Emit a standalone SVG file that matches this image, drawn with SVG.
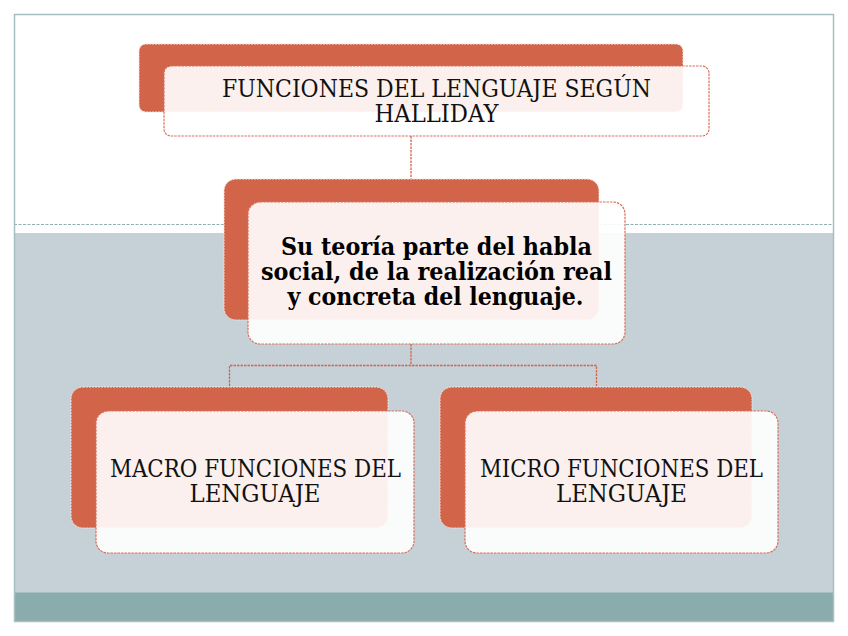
<svg xmlns="http://www.w3.org/2000/svg" width="848" height="636" viewBox="0 0 848 636">
<style>
.back{fill:#D2644A;stroke:#F3E3DE;stroke-width:1;stroke-dasharray:2 1}
.front{fill:#FFFFFF;fill-opacity:0.9;stroke:#D9705A;stroke-width:1.2;stroke-dasharray:2.5 1}
.conn{fill:none;stroke:#D2644A;stroke-width:1.3;stroke-dasharray:2.5 1}
.t{font-family:"DejaVu Serif","Liberation Serif",serif;font-size:23.5px;fill:#111;text-anchor:middle}
.tb{font-family:"DejaVu Serif","Liberation Serif",serif;font-size:23.5px;font-weight:bold;fill:#000;text-anchor:middle}
</style>
<rect x="0" y="0" width="848" height="636" fill="#FFFFFF"/>
<g id="background">
<rect x="14" y="233" width="819" height="359" fill="#C5D1D7"/>
<rect x="14" y="592" width="819" height="29" fill="#8BACAC"/>
<line x1="14" y1="592.5" x2="833" y2="592.5" stroke="#A6BEBF" stroke-width="1"/>
<line x1="14" y1="224.5" x2="833" y2="224.5" stroke="#8FAFB1" stroke-width="1.2" stroke-dasharray="3 1.5"/>
<rect x="14.5" y="14.5" width="819" height="607" fill="none" stroke="#A8BFC0" stroke-width="1.5"/>
</g>
<g id="connectors">
<path class="conn" d="M411 136 V179"/>
<path class="conn" d="M411 344 V365.5 M229.5 386 V365.5 H596.5 V386"/>
</g>
<g id="node-top">
<rect class="back" x="139" y="44" width="544" height="68" rx="7"/>
<rect class="front" x="164" y="66" width="545" height="70" rx="7"/>
<text class="t" x="436.5" y="97" textLength="429" lengthAdjust="spacingAndGlyphs">FUNCIONES DEL LENGUAJE SEGÚN</text>
<text class="t" x="436.5" y="122" textLength="124" lengthAdjust="spacingAndGlyphs">HALLIDAY</text>
</g>
<g id="node-middle">
<rect class="back" x="224" y="179" width="375" height="141" rx="12"/>
<rect class="front" x="248" y="202" width="377" height="142" rx="12"/>
<text class="tb" x="436.5" y="255" textLength="311" lengthAdjust="spacingAndGlyphs">Su teoría parte del habla</text>
<text class="tb" x="436.5" y="280" textLength="351" lengthAdjust="spacingAndGlyphs">social, de la realización real</text>
<text class="tb" x="435.5" y="305" textLength="296" lengthAdjust="spacingAndGlyphs">y concreta del lenguaje.</text>
</g>
<g id="node-macro">
<rect class="back" x="71" y="387" width="317" height="141" rx="12"/>
<rect class="front" x="96" y="411" width="318" height="142" rx="12"/>
<text class="t" x="255.5" y="477" textLength="291" lengthAdjust="spacingAndGlyphs">MACRO FUNCIONES DEL</text>
<text class="t" x="255" y="502" textLength="131" lengthAdjust="spacingAndGlyphs">LENGUAJE</text>
</g>
<g id="node-micro">
<rect class="back" x="440" y="387" width="312" height="141" rx="12"/>
<rect class="front" x="465" y="411" width="313" height="142" rx="12"/>
<text class="t" x="621.5" y="477" textLength="283" lengthAdjust="spacingAndGlyphs">MICRO FUNCIONES DEL</text>
<text class="t" x="621.5" y="502" textLength="131" lengthAdjust="spacingAndGlyphs">LENGUAJE</text>
</g>
</svg>
